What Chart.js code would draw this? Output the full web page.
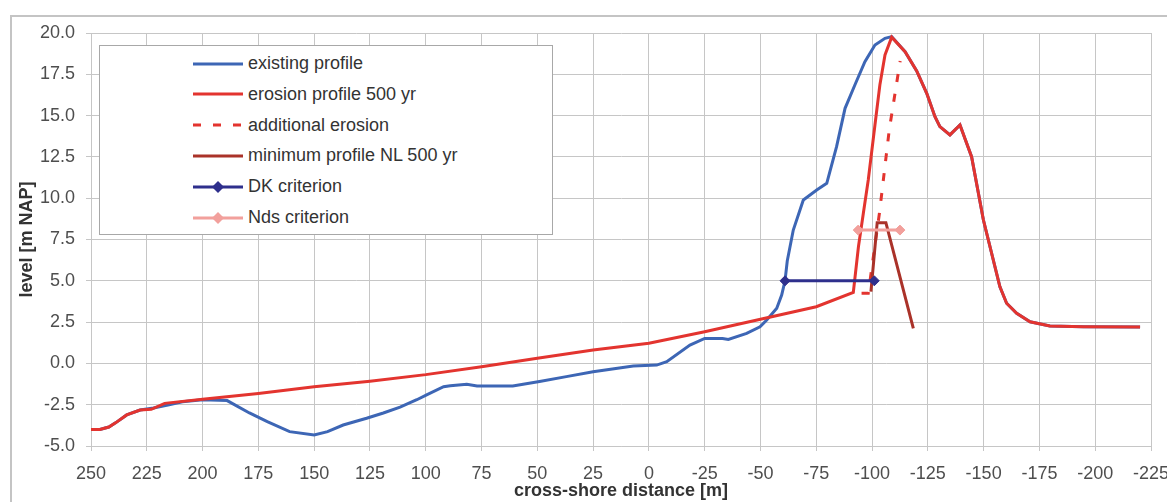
<!DOCTYPE html>
<html>
<head>
<meta charset="utf-8">
<script src="https://cdn.jsdelivr.net/npm/chart.js@4.4.0/dist/chart.umd.min.js"></script>
<style>
  html, body { margin: 0; padding: 0; background: #fff; overflow: hidden; width: 1167px; height: 502px; }
  #frame { position: absolute; left: 10px; top: 15px; width: 1300px; height: 600px; border: 2px solid #c4c4c4; }
  #chart { position: absolute; left: 0; top: 0; }
  #legend { position: absolute; left: 99px; top: 45px; width: 452px; height: 188px; background: #fff;
            border: 1px solid #a8a8a8; font-family: "Liberation Sans", Arial, sans-serif; font-size: 18px; color: #333; }
  .legend-item { position: absolute; left: 93px; height: 30px; display: flex; align-items: center; white-space: nowrap; }
  .legend-item svg { margin-right: 5px; }
</style>
</head>
<body>
<div id="frame"></div>
<canvas id="chart" width="1190" height="502"></canvas>
<div id="legend"></div>
<script>
// === DATA ===
var existingX = [250, 246, 242, 239, 234, 228, 222, 215, 209, 200, 189, 179, 171, 161, 150, 144, 137, 126.5, 119, 111.5,
  104, 99.6, 92, 89, 81.6, 77, 61, 49, 37, 25, 7, -3.5, -8, -18.4, -25, -33, -35.6, -43.8, -49.8, -52.8, -57.3, -59.5,
  -61, -62, -64.7, -69.2, -75.2, -79.7, -84.1, -87.9, -92.3, -96.8, -101.3, -105.8, -108.8,
  -114.8, -120, -124.5, -128.2, -130.4, -134.9, -139.4, -144.6, -149.9, -157.3, -160.3, -164.8, -170.8, -179.7, -194.7, -220.1];
var existingY = [-4.0, -4.0, -3.85, -3.6, -3.12, -2.82, -2.7, -2.5, -2.32, -2.2, -2.25, -3.0, -3.53, -4.13, -4.33, -4.13, -3.73, -3.32, -3.0, -2.65,
  -2.2, -1.9, -1.41, -1.35, -1.26, -1.37, -1.37, -1.1, -0.8, -0.5, -0.16, -0.1, 0.1, 1.11, 1.51, 1.51, 1.45, 1.82, 2.22, 2.63, 3.34, 4.14,
  5.0, 6.2, 8.07, 9.89, 10.5, 10.9, 13.12, 15.44, 16.85, 18.26, 19.27, 19.68, 19.78,
  18.87, 17.7, 16.35, 14.93, 14.33, 13.83, 14.43, 12.51, 8.68, 4.64, 3.64, 3.03, 2.52, 2.26, 2.22, 2.2];

var erosionX = [250, 246, 242, 239, 234, 228, 223, 217, 200, 175, 150, 125, 100, 75, 50, 25, 0, -25, -50, -75,
  -91.6, -93.9, -96.1, -98.3, -101.3, -103.5, -105.8, -108.8, -114.8, -120, -124.5, -128.2, -130.4, -134.9, -139.4,
  -144.6, -149.9, -157.3, -160.3, -164.8, -170.8, -179.7, -194.7, -220.1];
var erosionY = [-4.0, -4.0, -3.85, -3.6, -3.12, -2.82, -2.78, -2.42, -2.17, -1.82, -1.41, -1.08, -0.68, -0.2, 0.31, 0.81, 1.22, 1.92, 2.67, 3.43,
  4.3, 7.06, 9.09, 11.1, 14.43, 16.85, 18.67, 19.75, 18.87, 17.7, 16.35, 14.93, 14.33, 13.83, 14.43,
  12.51, 8.68, 4.64, 3.64, 3.03, 2.52, 2.26, 2.22, 2.2];

var additionalX = [-95.3, -98.3, -103.3, -107.7, -112.6];
var additionalY = [4.24, 4.24, 9.09, 14.13, 18.3];

var minimumX = [-99.5, -102.3, -106.2, -118.5];
var minimumY = [4.34, 8.52, 8.52, 2.12];

var dkX = [-61, -101];
var dkY = [5.0, 5.0];

var ndsX = [-93.8, -112.5];
var ndsY = [8.07, 8.07];

var yTicks = [-5, -2.5, 0, 2.5, 5, 7.5, 10, 12.5, 15, 17.5, 20];

function pts(xs, ys) { return xs.map(function(x, i) { return { x: x, y: ys[i] }; }); }

var FONT = '"Liberation Sans", Arial, sans-serif';
var GRID = '#c6c6c6';

var lineBase = { fill: false, tension: 0, pointRadius: 0, borderWidth: 3 };

var datasets = [
  Object.assign({}, lineBase, { label: 'existing profile', data: pts(existingX, existingY), borderColor: '#3d66b5', order: 5 }),
  Object.assign({}, lineBase, { label: 'erosion profile 500 yr', data: pts(erosionX, erosionY), borderColor: '#e3342f', order: 4 }),
  Object.assign({}, lineBase, { label: 'additional erosion', data: pts(additionalX, additionalY), borderColor: '#e3342f', borderDash: [8, 12], order: 3 }),
  Object.assign({}, lineBase, { label: 'minimum profile NL 500 yr', data: pts(minimumX, minimumY), borderColor: '#aa3229', order: 2 }),
  Object.assign({}, lineBase, { label: 'DK criterion', data: pts(dkX, dkY), borderColor: '#2e2f8c',
    pointRadius: 5, pointStyle: 'rectRot', pointBackgroundColor: '#2e2f8c', pointBorderColor: '#2e2f8c', pointBorderWidth: 1, order: 1 }),
  Object.assign({}, lineBase, { label: 'Nds criterion', data: pts(ndsX, ndsY), borderColor: '#f2a09c',
    pointRadius: 5, pointStyle: 'rectRot', pointBackgroundColor: '#f2a09c', pointBorderColor: '#f2a09c', pointBorderWidth: 1, order: 0 })
];

// legend inside plot, built from the datasets
document.getElementById('legend').innerHTML = datasets.map(function(ds, i) {
  var dash = ds.borderDash ? ' stroke-dasharray="' + ds.borderDash.join(',') + '"' : '';
  var marker = ds.pointRadius ? '<polygon points="25,0 31,6 25,12 19,6" fill="' + ds.borderColor + '"/>' : '';
  return '<div class="legend-item" style="top:' + (2.5 + i * 30.8) + 'px">' +
    '<svg width="50" height="12"><line x1="0" y1="6" x2="50" y2="6" stroke="' + ds.borderColor + '" stroke-width="3"' + dash + '/>' + marker + '</svg>' +
    ds.label + '</div>';
}).join('');

new Chart(document.getElementById('chart').getContext('2d'), {
  type: 'line',
  data: { datasets: datasets },
  options: {
    responsive: false, animation: false,
    layout: { padding: { left: 10, top: 33, right: 39, bottom: 0 } },
    plugins: { legend: { display: false }, tooltip: { enabled: false } },
    scales: {
      x: {
        type: 'linear', reverse: true, min: -225, max: 250,
        afterFit: function(s) { s.height = 56; },
        grid: { color: GRID, tickLength: 5 },
        border: { color: GRID },
        ticks: { stepSize: 25, padding: 12, color: '#4e4e4e', font: { family: FONT, size: 18 } },
        title: { display: true, text: 'cross-shore distance [m]', color: '#333', padding: { top: 0, bottom: 0 },
          font: { family: FONT, size: 18, weight: 'bold' } }
      },
      y: {
        min: -5, max: 20,
        afterFit: function(s) { s.width = 81; },
        afterBuildTicks: function(s) { s.ticks = yTicks.map(function(v) { return { value: v }; }); },
        grid: { color: GRID, tickLength: 5 },
        border: { color: GRID },
        ticks: { padding: 11, color: '#4e4e4e', font: { family: FONT, size: 18 },
          callback: function(v) { return v.toFixed(1); } },
        title: { display: true, text: 'level [m NAP]', color: '#333', padding: { top: 6, bottom: 0 },
          font: { family: FONT, size: 18, weight: 'bold' } }
      }
    }
  }
});
</script>
</body>
</html>
